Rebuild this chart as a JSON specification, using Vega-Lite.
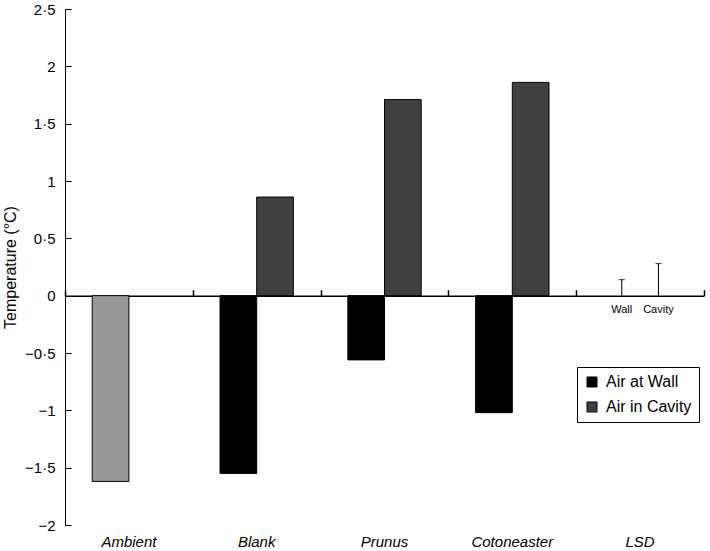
{
  "$schema": "https://vega.github.io/schema/vega-lite/v6.json",
  "width": 639,
  "height": 516,
  "autosize": {"type": "none"},
  "padding": {"left": 65, "top": 9, "right": 6, "bottom": 26},
  "background": "white",
  "config": {
    "font": "Liberation Sans",
    "view": {"stroke": null},
    "axis": {"grid": false, "domainColor": "#000", "tickColor": "#000", "labelColor": "#000", "titleColor": "#000"}
  },
  "datasets": {
    "bars": [
      {"cat": "Ambient", "slot": "Wall", "series": "Ambient", "value": -1.62},
      {"cat": "Blank", "slot": "Wall", "series": "Air at Wall", "value": -1.55},
      {"cat": "Blank", "slot": "Cavity", "series": "Air in Cavity", "value": 0.86},
      {"cat": "Prunus", "slot": "Wall", "series": "Air at Wall", "value": -0.56},
      {"cat": "Prunus", "slot": "Cavity", "series": "Air in Cavity", "value": 1.71},
      {"cat": "Cotoneaster", "slot": "Wall", "series": "Air at Wall", "value": -1.02},
      {"cat": "Cotoneaster", "slot": "Cavity", "series": "Air in Cavity", "value": 1.86}
    ],
    "lsd": [
      {"cat": "LSD", "slot": "Wall", "value": 0.14, "label": "Wall"},
      {"cat": "LSD", "slot": "Cavity", "value": 0.28, "label": "Cavity"}
    ]
  },
  "resolve": {"axis": {"x": "independent"}},
  "layer": [
    {
      "data": {"name": "bars"},
      "mark": {"type": "bar", "stroke": "#000", "strokeWidth": 1},
      "encoding": {
        "x": {
          "field": "cat", "type": "nominal",
          "sort": ["Ambient", "Blank", "Prunus", "Cotoneaster", "LSD"],
          "scale": {"domain": ["Ambient", "Blank", "Prunus", "Cotoneaster", "LSD"], "paddingInner": 0, "paddingOuter": 0},
          "axis": {
            "orient": "bottom", "title": null, "domain": false, "ticks": false,
            "labelAngle": 0, "labelFontSize": 15, "labelFontStyle": "italic", "labelPadding": 9
          }
        },
        "xOffset": {
          "field": "slot", "type": "nominal",
          "scale": {"domain": ["Wall", "Cavity"], "paddingInner": 0, "paddingOuter": 0.742}
        },
        "y": {
          "field": "value", "type": "quantitative",
          "scale": {"domain": [-2, 2.5], "nice": false, "zero": false},
          "axis": {
            "title": "Temperature (°C)", "titleFontSize": 16, "titleFontWeight": "normal", "titlePadding": 6,
            "values": [-2, -1.5, -1, -0.5, 0, 0.5, 1, 1.5, 2, 2.5],
            "labelExpr": "(datum.value < 0 ? '−' : '') + replace(format(abs(datum.value), '~g'), '.', '·')",
            "labelFontSize": 15, "tickSize": -6, "labelPadding": 16, "domainWidth": 1, "tickWidth": 1
          }
        },
        "color": {
          "field": "series", "type": "nominal",
          "scale": {"domain": ["Ambient", "Air at Wall", "Air in Cavity"], "range": ["#999999", "#000000", "#404040"]},
          "legend": {
            "values": ["Air at Wall", "Air in Cavity"],
            "title": null, "orient": "none", "legendX": 512, "legendY": 358,
            "symbolType": "square", "symbolSize": 100, "symbolStrokeColor": "#000", "symbolStrokeWidth": 1,
            "labelFontSize": 16, "labelColor": "#000", "labelOffset": 6, "rowPadding": 9, "padding": 7,
            "strokeColor": "#000", "fillColor": "white"
          }
        }
      }
    },
    {
      "data": {"name": "lsd"},
      "mark": {"type": "rule", "color": "#000", "strokeWidth": 1},
      "encoding": {
        "x": {
          "field": "cat", "type": "nominal",
          "sort": ["Ambient", "Blank", "Prunus", "Cotoneaster", "LSD"],
          "axis": {
            "orient": "top", "offset": -286.67, "title": null, "labels": false,
            "tickBand": "extent", "tickSize": 6, "domainWidth": 1.5, "tickWidth": 1.5
          }
        },
        "xOffset": {"field": "slot", "type": "nominal"},
        "y": {"field": "value", "type": "quantitative"},
        "y2": {"datum": 0}
      }
    },
    {
      "data": {"name": "lsd"},
      "mark": {"type": "tick", "color": "#000", "size": 6, "thickness": 1.2},
      "encoding": {
        "x": {"field": "cat", "type": "nominal", "axis": null},
        "xOffset": {"field": "slot", "type": "nominal"},
        "y": {"field": "value", "type": "quantitative"}
      }
    },
    {
      "data": {"name": "lsd"},
      "mark": {"type": "text", "fontSize": 11, "dy": 14, "baseline": "middle", "color": "#000"},
      "encoding": {
        "x": {"field": "cat", "type": "nominal", "axis": null},
        "xOffset": {"field": "slot", "type": "nominal"},
        "y": {"datum": 0, "type": "quantitative"},
        "text": {"field": "label"}
      }
    }
  ]
}
